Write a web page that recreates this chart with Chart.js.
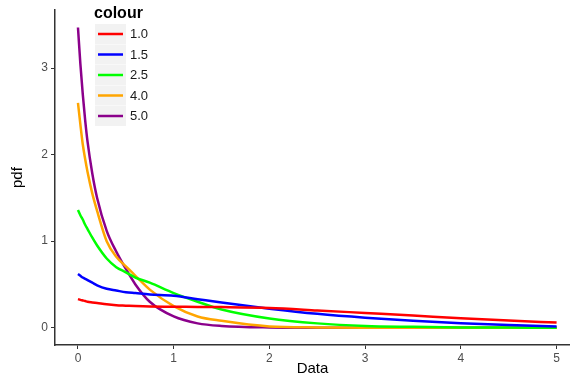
<!DOCTYPE html>
<html>
<head>
    <title>pdf</title>
    <meta charset="UTF-8">
    <style>
        body { margin: 0; background: #fff; }
        #wrap { width: 570px; height: 379px; }
    </style>
    <script src="https://cdn.jsdelivr.net/npm/chart.js"></script>
    <script>
        // sample points along x
        const xs = [0, 0.025, 0.05, 0.075, 0.1, 0.15, 0.2, 0.3, 0.4, 0.5, 0.6, 0.75, 1, 1.25, 1.5, 2, 2.5, 3, 3.5, 4, 4.5, 5];

        const labels = ['1.0', '1.5', '2.5', '4.0', '5.0'];
        const colours = ['#ff0000', '#0000ff', '#00ff00', '#ffa500', '#8b008b'];

        const pdf10 = [0.33, 0.322, 0.315, 0.308, 0.30, 0.292, 0.285, 0.27, 0.26, 0.255, 0.25, 0.245, 0.243, 0.24, 0.238, 0.228, 0.20, 0.17, 0.14, 0.108, 0.082, 0.06];
        const pdf15 = [0.62, 0.60, 0.58, 0.565, 0.55, 0.52, 0.49, 0.45, 0.43, 0.41, 0.40, 0.385, 0.37, 0.33, 0.29, 0.22, 0.16, 0.115, 0.08, 0.05, 0.03, 0.015];
        const pdf25 = [1.36, 1.30, 1.25, 1.19, 1.14, 1.04, 0.95, 0.80, 0.70, 0.64, 0.58, 0.52, 0.40, 0.30, 0.21, 0.106, 0.05, 0.02, 0.01, 0.003, 0.001, 0];
        const pdf40 = [2.6, 2.35, 2.12, 1.95, 1.8, 1.55, 1.35, 1.0, 0.82, 0.71, 0.6, 0.44, 0.25, 0.13, 0.08, 0.015, 0.003, 0, 0, 0, 0, 0];
        const pdf50 = [3.47, 3.05, 2.7, 2.4, 2.15, 1.78, 1.5, 1.12, 0.88, 0.68, 0.5, 0.3, 0.13, 0.05, 0.02, 0.003, 0, 0, 0, 0, 0, 0];

        const xTicks = [0, 1, 2, 3, 4, 5];
        const yTicks = [0, 1, 2, 3];

        const series = [pdf10, pdf15, pdf25, pdf40, pdf50];

        const FONT = '"Liberation Sans", Arial, sans-serif';

        // legend drawn inside the plot, ggplot style
        const ggLegend = {
            id: 'ggLegend',
            afterDraw(chart) {
                const ctx = chart.ctx;
                ctx.save();
                ctx.fillStyle = '#000';
                ctx.font = 'bold 16px ' + FONT;
                ctx.textBaseline = 'middle';
                ctx.fillText('colour', 94, 14);
                chart.data.datasets.forEach((ds, i) => {
                    const y = 24 + i * 20.5;
                    ctx.fillStyle = '#f2f2f2';
                    ctx.fillRect(95, y, 31, 20);
                    ctx.strokeStyle = ds.borderColor;
                    ctx.lineWidth = 2.5;
                    ctx.beginPath();
                    ctx.moveTo(98, y + 10);
                    ctx.lineTo(123, y + 10);
                    ctx.stroke();
                    ctx.fillStyle = '#1a1a1a';
                    ctx.font = '13px ' + FONT;
                    ctx.fillText(ds.label, 130, y + 10.5);
                });
                ctx.restore();
            }
        };

        window.onload = function () {
            const ctx = document.getElementById('myChart').getContext('2d');
            new Chart(ctx, {
                type: 'line',
                data: {
                    datasets: series.map((vals, i) => ({
                        label: labels[i],
                        data: xs.map((x, j) => ({ x: x, y: vals[j] })),
                        borderColor: colours[i],
                        borderWidth: 2.5,
                        pointRadius: 0,
                        fill: false,
                        cubicInterpolationMode: 'monotone'
                    }))
                },
                options: {
                    responsive: false,
                    animation: false,
                    layout: { padding: { top: 5, right: 0, left: 0, bottom: 0 } },
                    plugins: {
                        legend: { display: false },
                        tooltip: { enabled: false }
                    },
                    scales: {
                        x: {
                            type: 'linear',
                            min: -0.24,
                            max: 5.14,
                            afterBuildTicks: s => { s.ticks = xTicks.map(v => ({ value: v })); },
                            afterFit: s => { s.height = 34; },
                            title: {
                                display: true,
                                text: 'Data',
                                color: '#000',
                                font: { size: 15, family: FONT },
                                padding: { top: 0, bottom: 1 }
                            },
                            ticks: {
                                color: '#4d4d4d',
                                padding: 2,
                                maxRotation: 0,
                                font: { size: 12, family: FONT }
                            },
                            grid: { drawOnChartArea: false, drawTicks: true, tickLength: 4, color: '#333' },
                            border: { display: true, color: '#333', width: 1.5 }
                        },
                        y: {
                            min: -0.2,
                            max: 3.67,
                            afterBuildTicks: s => { s.ticks = yTicks.map(v => ({ value: v })); },
                            afterFit: s => { s.width = 55; },
                            title: {
                                display: true,
                                text: 'pdf',
                                color: '#000',
                                font: { size: 15, family: FONT },
                                padding: { top: 9, bottom: 0 }
                            },
                            ticks: {
                                color: '#4d4d4d',
                                padding: 3,
                                font: { size: 12, family: FONT }
                            },
                            grid: { drawOnChartArea: false, drawTicks: true, tickLength: 4, color: '#333' },
                            border: { display: true, color: '#333', width: 1.5 }
                        }
                    }
                },
                plugins: [ggLegend]
            });
        };
    </script>
</head>
<body>
<div id="wrap">
    <canvas id="myChart" width="570" height="379"></canvas>
</div>
</body>
</html>
